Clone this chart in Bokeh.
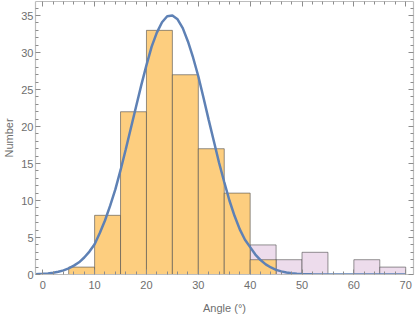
from bokeh.plotting import figure
from bokeh.models import LinearAxis, FixedTicker, Range1d
from bokeh.embed import file_html
from bokeh.resources import INLINE

# Histogram bins (degrees)
bin_left = [0, 5, 10, 15, 20, 25, 30, 35, 40, 45, 50, 55, 60, 65]
bin_right = [5, 10, 15, 20, 25, 30, 35, 40, 45, 50, 55, 60, 65, 70]
orange_counts = [0, 1, 8, 22, 33, 27, 17, 11, 2, 0, 0, 0, 0, 0]
pink_counts = [0, 0, 0, 0, 0, 0, 0, 0, 4, 2, 3, 0, 2, 1]

# Fitted curve
curve_x = [-1.4, 0, 1, 2, 3, 4, 5, 6, 7, 8, 9, 10, 11, 12, 13, 14, 15, 16, 17, 18,
           19, 20, 21, 22, 23, 24, 25, 26, 27, 28, 29, 30, 31, 32, 33, 34, 35, 36,
           37, 38, 39, 40, 41, 42, 43, 44, 45, 46, 47, 48, 49, 50, 52, 55, 60, 65, 70]
curve_y = [0.05, 0.1, 0.15, 0.24, 0.37, 0.56, 0.83, 1.2, 1.65, 2.3, 3.1, 4.1, 5.6, 7.3,
           9.3, 11.5, 14.1, 16.9, 19.8, 22.7, 25.6, 28.3, 30.8, 32.7, 34.1, 34.9, 35.0,
           34.5, 33.3, 31.5, 29.3, 26.8, 23.9, 20.9, 18.0, 15.1, 12.5, 10.0, 7.9, 6.1,
           4.7, 3.7, 2.7, 1.95, 1.37, 0.95, 0.63, 0.42, 0.28, 0.18, 0.11, 0.07, 0.02,
           0.0, 0.0, 0.0, 0.0]

x_ticks = [0, 10, 20, 30, 40, 50, 60, 70]
y_ticks = [0, 5, 10, 15, 20, 25, 30, 35]

FRAME = "#bdbdbd"
TICK = "#8c8c8c"
LABEL = "#6e6e6e"
FONT = "Liberation Sans"

p = figure(width=415, height=316, output_backend="svg", toolbar_location=None,
           x_range=Range1d(-1.4, 71.5), y_range=Range1d(0, 36.9),
           x_axis_location=None, y_axis_location=None,
           min_border_left=35, min_border_right=2, min_border_top=1, min_border_bottom=42,
           background_fill_color="white", border_fill_color="white",
           outline_line_color=None)
p.xgrid.visible = False
p.ygrid.visible = False

p.quad(left=bin_left, right=bin_right, bottom=0, top=pink_counts,
       fill_color="#EDDCEC", line_color="#4d4d4d", line_alpha=0.6, line_width=1)
p.quad(left=bin_left, right=bin_right, bottom=0, top=orange_counts,
       fill_color="#FDCE7F", line_color="#4d4d4d", line_alpha=0.6, line_width=1)
p.line(curve_x, curve_y, line_color="#5E81B5", line_width=2.5)

x_minor = [v for v in range(-2, 72, 2) if v % 10 != 0 and -1.4 <= v <= 71.5]
y_minor = [v for v in range(0, 37) if v % 5 != 0]


def style(ax, ticks, minor, labels=True):
    ax.ticker = FixedTicker(ticks=ticks, minor_ticks=minor)
    ax.axis_line_color = FRAME
    ax.axis_line_width = 1.2
    ax.major_tick_line_color = TICK
    ax.minor_tick_line_color = TICK
    ax.major_tick_in = 5
    ax.major_tick_out = 0
    ax.minor_tick_in = 3
    ax.minor_tick_out = 0
    ax.major_label_text_color = LABEL
    ax.major_label_text_font = FONT
    ax.major_label_text_font_size = "11px"
    if not labels:
        ax.major_label_overrides = {t: "" for t in ticks}
    ax.axis_label_text_color = LABEL
    ax.axis_label_text_font = FONT
    ax.axis_label_text_font_size = "11px"
    ax.axis_label_text_font_style = "normal"


bottom = LinearAxis(axis_label="Angle (°)")
style(bottom, x_ticks, x_minor)
bottom.major_label_standoff = 6
bottom.axis_label_standoff = 10
p.add_layout(bottom, "below")

left = LinearAxis(axis_label="Number")
style(left, y_ticks, y_minor)
left.major_label_standoff = 2
left.axis_label_standoff = 3
p.add_layout(left, "left")

top = LinearAxis()
style(top, x_ticks, x_minor, labels=False)
top.major_label_standoff = 0
p.add_layout(top, "above")

right = LinearAxis()
style(right, y_ticks, y_minor, labels=False)
right.major_label_standoff = 0
p.add_layout(right, "right")

open("out.html", "w").write(file_html(p, INLINE))
